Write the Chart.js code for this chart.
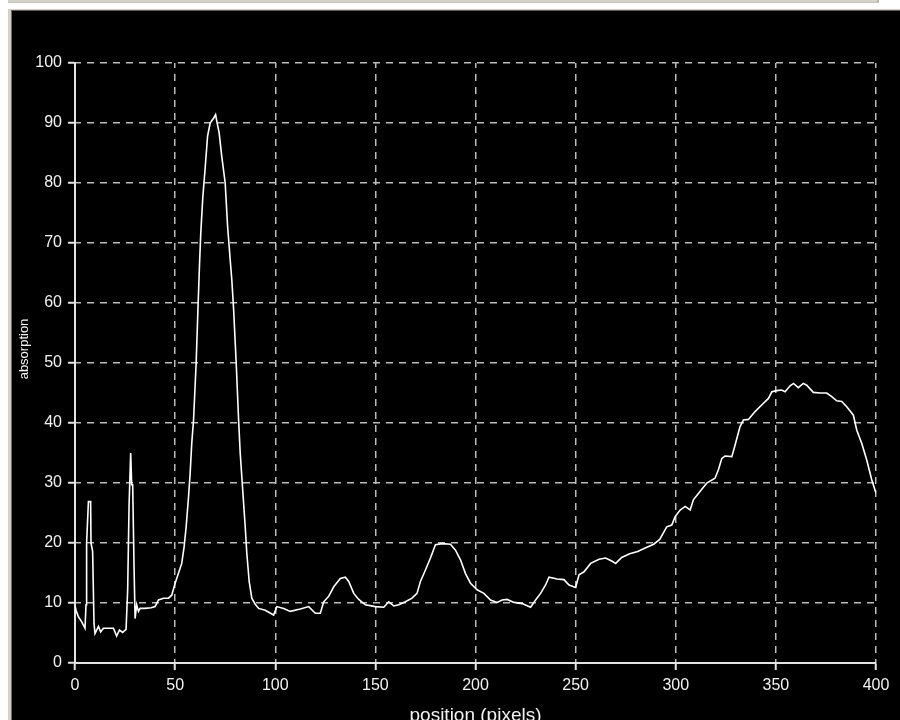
<!DOCTYPE html>
<html>
<head>
<meta charset="utf-8">
<title>absorption profile</title>
<script src="https://cdn.jsdelivr.net/npm/chart.js@4/dist/chart.umd.min.js"></script>
<style>
  html, body { margin: 0; padding: 0; width: 900px; height: 720px; overflow: hidden; background: #ffffff; }
  #strip { position: absolute; left: 8px; top: 0; width: 869px; height: 2px; background: #d6d3ca;
           border-right: 2px solid #b9b6ad; border-bottom: 1px solid #c4c1b8; }
  #frame { position: absolute; left: 8px; top: 9px; width: 892px; height: 711px; box-sizing: border-box;
           background: #d4d0c8; padding: 1px 0 0 3px; }
  #panel { width: 100%; height: 100%; box-sizing: border-box; background: #000000;
           border-left: 1px solid #6f6d66; border-top: 1px solid #5d5b55; }
  #wrap { position: absolute; left: 11px; top: 12px; width: 889px; height: 730px; }
</style>
</head>
<body>
<div id="strip"></div>
<div id="frame"><div id="panel"></div></div>
<div id="wrap"><canvas id="chart" width="889" height="730"></canvas></div>
<script>
// Measured absorption profile along the scan line
const positions = [
  0, 0.5, 1.7, 3.3, 5.0, 5.5, 5.8, 6.7, 7.8, 8.0, 8.8, 9.5, 10.0, 11.7, 12.8, 14.2, 16.7, 19.2,
  20.8, 22.2, 23.8, 25.5, 26.3, 27.0, 27.8, 28.3, 28.8, 29.5, 30.0, 30.8, 31.7, 32.5, 35.0, 38.0,
  40.0, 41.7, 44.2, 46.7, 48.3, 50.0, 51.7, 53.3, 54.5, 55.5, 56.7, 57.5, 58.3, 59.2, 60.5, 61.5,
  62.2, 62.8, 63.8, 65.0, 66.2, 67.5, 69.2, 70.2, 70.8, 72.0, 73.3, 75.0, 76.2, 77.5, 78.3, 79.2,
  80.5, 81.7, 82.5, 83.8, 85.0, 85.8, 87.0, 88.3, 90.0, 91.7, 95.0, 99.2, 100.8, 104.2, 107.5,
  112.5, 116.7, 120.0, 122.5, 124.2, 126.7, 129.2, 132.5, 135.0, 136.7, 139.2, 141.7, 145.0,
  150.0, 154.2, 156.7, 159.2, 161.7, 165.0, 168.3, 170.8, 172.5, 175.0, 177.5, 180.0, 183.3,
  187.5, 190.0, 192.5, 195.0, 197.5, 200.8, 204.2, 207.5, 210.8, 213.3, 215.8, 219.2, 223.3,
  227.5, 230.0, 232.5, 235.0, 236.7, 240.8, 244.2, 246.7, 250.0, 251.7, 254.2, 257.5, 261.7,
  265.0, 268.0, 270.0, 273.0, 277.0, 281.0, 285.0, 289.0, 292.0, 295.5, 298.0, 299.7, 302.2,
  304.7, 307.2, 308.8, 312.1, 315.5, 319.6, 321.3, 323.0, 324.6, 328.0, 329.6, 332.1, 333.8,
  336.3, 339.6, 343.8, 346.3, 348.0, 350.4, 352.9, 354.6, 357.1, 358.8, 361.2, 363.7, 365.4,
  368.7, 372.1, 375.4, 377.9, 380.4, 382.9, 385.4, 388.7, 390.4, 392.9, 395.4, 397.9, 400.0
];
const absorption = [
  9.6, 8.8, 7.7, 6.9, 5.8, 9.7, 20.0, 26.9, 26.9, 20.0, 18.6, 6.6, 4.9, 6.1, 5.2, 5.8, 5.8, 5.8,
  4.5, 5.5, 5.1, 5.6, 12.2, 26.3, 35.0, 29.7, 29.7, 15.8, 7.4, 9.7, 8.6, 9.1, 9.1, 9.2,
  9.4, 10.5, 10.8, 10.8, 11.3, 13.3, 15.0, 16.6, 19.4, 22.7, 27.7, 31.6, 36.6, 40.5, 50.0, 60.0,
  66.6, 71.6, 77.5, 82.5, 87.8, 90.0, 90.8, 91.4, 90.3, 88.3, 84.4, 80.0, 72.8, 67.2, 63.9, 59.0,
  50.0, 40.5, 35.0, 28.6, 22.7, 18.3, 13.5, 10.8, 9.8, 9.1, 8.8, 8.0, 9.4, 9.1, 8.6,
  9.0, 9.4, 8.3, 8.3, 10.2, 11.1, 12.7, 14.1, 14.3, 13.6, 11.6, 10.6, 9.7,
  9.4, 9.3, 10.2, 9.5, 9.7, 10.2, 10.8, 11.6, 13.6, 15.5, 17.5, 19.7, 19.9,
  19.8, 18.8, 17.2, 14.9, 13.3, 12.2, 11.6, 10.5, 10.1, 10.5, 10.6, 10.1, 9.9,
  9.3, 10.5, 11.6, 13.0, 14.3, 14.0, 13.9, 13.0, 12.6, 14.7, 15.2, 16.6, 17.3,
  17.5, 17.0, 16.6, 17.6, 18.2, 18.6, 19.2, 19.8, 20.6, 22.7, 23.0, 24.4, 25.5,
  26.1, 25.5, 27.2, 28.6, 30.0, 30.8, 32.2, 34.1, 34.5, 34.4, 36.3, 39.4, 40.5,
  40.6, 41.9, 43.3, 44.1, 45.2, 45.4, 45.5, 45.2, 46.2, 46.6, 45.9, 46.6, 46.3,
  45.1, 45.0, 45.0, 44.4, 43.7, 43.6, 42.7, 41.3, 38.8, 36.6, 33.8, 30.5, 28.3
];

// Axis ticks and titles
const xTickValues = [0, 50, 100, 150, 200, 250, 300, 350, 400];
const yTickValues = [0, 10, 20, 30, 40, 50, 60, 70, 80, 90, 100];
const xTitle = 'position (pixels)';
const yTitle = 'absorption';

const FONT = '"Liberation Sans", Arial, Helvetica, sans-serif';
const TEXT = '#f2f2f2';
const AXIS = '#e4e4e4';
const GRID = '#bcbcbc';

const points = positions.map((p, i) => ({ x: p, y: absorption[i] }));

function axisStyle(tickValues, min, max) {
  return {
    type: 'linear',
    min: min,
    max: max,
    afterBuildTicks: s => { s.ticks = tickValues.map(v => ({ value: v })); },
    grid: {
      color: GRID,
      lineWidth: 1.5,
      drawTicks: true,
      tickLength: 7,
      tickColor: AXIS,
      tickWidth: 2,
      tickBorderDash: []
    },
    border: { display: true, color: AXIS, width: 2, dash: [7, 6], dashOffset: 2 },
    ticks: {
      color: TEXT,
      font: { family: FONT, size: 16 },
      padding: 6,
      autoSkip: false,
      maxRotation: 0,
      minRotation: 0
    }
  };
}

const xAxis = axisStyle(xTickValues, 0, 400);
xAxis.title = {
  display: true, text: xTitle, color: TEXT,
  font: { family: FONT, size: 19 }, padding: { top: 0, bottom: 15 }
};
xAxis.afterFit = s => { s.height = 79; };

const yAxis = axisStyle(yTickValues, 0, 100);
yAxis.afterFit = s => { s.width = 64; };

// Vertical axis title, set a little above the middle of the plot
const yTitlePlugin = {
  id: 'yTitle',
  afterDraw(chart) {
    const { ctx, chartArea } = chart;
    ctx.save();
    ctx.translate(13.6, (chartArea.top + chartArea.bottom) / 2 - 14);
    ctx.rotate(-Math.PI / 2);
    ctx.font = '13px ' + FONT;
    ctx.fillStyle = TEXT;
    ctx.textAlign = 'center';
    ctx.textBaseline = 'middle';
    ctx.fillText(yTitle, 0, 0);
    ctx.restore();
  }
};

new Chart(document.getElementById('chart'), {
  type: 'line',
  data: {
    datasets: [{
      data: points,
      borderColor: '#ffffff',
      borderWidth: 1.6,
      pointRadius: 0,
      tension: 0,
      fill: false
    }]
  },
  options: {
    responsive: false,
    animation: false,
    devicePixelRatio: 1,
    layout: { padding: { left: 0, right: 24, top: 51, bottom: 0 } },
    plugins: { legend: { display: false }, tooltip: { enabled: false } },
    scales: { x: xAxis, y: yAxis }
  },
  plugins: [yTitlePlugin]
});
</script>
</body>
</html>
